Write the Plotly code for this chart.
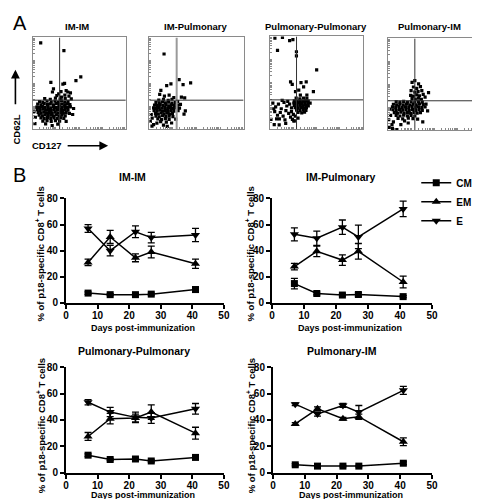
import math
import plotly.graph_objects as go

W, H = 480, 499
FONT = "Liberation Sans"

# ---------------- data: panel B ----------------
days = [7, 14, 22, 27, 41]
panel_titles = ["IM-IM", "IM-Pulmonary", "Pulmonary-Pulmonary", "Pulmonary-IM"]
series_names = ["CM", "EM", "E"]

cm_imim = [7.5, 6.3, 6.3, 6.7, 10.2]
cm_imim_err = [1.0, 0.8, 0.8, 0.8, 2.0]
em_imim = [31, 50.5, 34.5, 39, 30]
em_imim_err = [2.5, 5, 3, 4.5, 3.5]
e_imim = [57, 40, 54.5, 50, 52]
e_imim_err = [3, 4, 4.5, 4, 5]

cm_impul = [14.8, 7.2, 6.0, 6.4, 4.8]
cm_impul_err = [4, 1, 0.8, 1.5, 0.8]
em_impul = [27.8, 39.5, 32.8, 39.5, 16]
em_impul_err = [2.5, 4, 4, 6, 4.5]
e_impul = [52.5, 49.5, 58, 50.5, 72]
e_impul_err = [5, 5.5, 5.5, 9, 6]

cm_pulpul = [13.3, 10, 10.4, 8.9, 11.6]
cm_pulpul_err = [1, 0.8, 0.8, 0.8, 1]
em_pulpul = [27.5, 41, 41.5, 46, 30]
em_pulpul_err = [3, 4, 3, 5.5, 4.5]
e_pulpul = [53.5, 46, 42, 41.5, 48.5]
e_pulpul_err = [2, 3.5, 4, 4, 4]

cm_pulim = [6, 5, 5, 5, 7.2]
cm_pulim_err = [0.8, 0.6, 0.6, 0.6, 1]
em_pulim = [37, 48.5, 41, 42.5, 23.5]
em_pulim_err = [1, 1.5, 1, 2, 3]
e_pulim = [52, 44.5, 51, 46, 62.5]
e_pulim_err = [1, 1.5, 1.5, 5, 3]

# ---------------- data: panel A (flow dot plots, % of axis) ----------------
flow_imim = [
    (8.7, 94), (33.6, 85.5), (51.7, 57), (46.5, 53), (19.6, 51), (32.5, 49), (34.3, 50), (22.4, 44),
    (21.3, 40.5), (37.8, 40.5), (40.6, 39.5), (36, 42), (34.6, 37), (31, 35), (26, 36.5), (28, 38.5),
    (41.5, 33), (39, 36), (30.5, 41),
    (13, 33.2), (19, 32.6), (24.5, 33.8), (29.5, 32.9), (35, 33.4),
    (7.5, 30.1), (11, 29.3), (15.5, 30.6), (20, 29.8), (24, 30.4), (27.5, 29.6), (31, 30.8), (34.5, 29.5), (38, 30.2),
    (5.5, 27.2), (9, 26.5), (12.5, 27.8), (16, 26.9), (19, 27.5), (22.5, 26.6), (25.5, 27.9), (28.5, 26.8),
    (31.5, 27.3), (34.5, 26.4), (37.5, 27.6), (40, 26.8),
    (4.5, 24.1), (7.5, 23.5), (10.5, 24.6), (13.5, 23.8), (16.5, 24.4), (19.5, 23.3), (22.5, 24.7), (25.5, 23.6),
    (28.5, 24.2), (31.5, 23.4), (34.5, 24.5), (37.5, 23.7), (40.5, 24.3),
    (5, 21.3), (8, 20.5), (11, 21.7), (14, 20.6), (17, 21.4), (20, 20.3), (23, 21.5), (26, 20.8), (29, 21.2),
    (32, 20.4), (35, 21.6), (38, 20.7),
    (6, 18.2), (9, 17.4), (12, 18.6), (15, 17.7), (18, 18.4), (21, 17.3), (24, 18.5), (27, 17.6), (30, 18.3),
    (33, 17.5), (36, 18.1), (39.5, 17.2),
    (7, 15.3), (10.5, 14.5), (13.5, 15.6), (16.5, 14.8), (19.5, 15.4), (22.5, 14.3), (25.5, 15.5), (28.5, 14.6),
    (31.5, 15.2), (35, 14.4),
    (9, 12.2), (12.5, 11.4), (16, 12.5), (19.5, 11.7), (23, 12.3), (26.5, 11.5), (30, 12.4), (33.5, 11.8),
    (11, 8.8), (15.5, 9.4), (20, 8.5), (24.5, 9.3), (29, 8.6),
    (2.5, 6), (21, 4), (36, 8.5), (43, 16), (44, 22.5), (3, 13), (1.5, 19), (27, 5.5), (14, 5.8),
]
flow_impul = [
    (15.6, 81.9), (31.6, 53.9), (43.8, 50.4), (35.8, 48.6), (22.9, 49.3), (18.4, 47.5), (12.2, 42.2), (34, 35),
    (37.5, 34), (38.2, 19.9), (36.8, 16.3), (1, 8.5), (2.8, 3.2), (23.6, 6.7), (30, 30), (33, 27), (32, 23),
    (11, 38), (16, 36), (21, 37), (26, 34.5),
    (10, 31.8), (15, 32.5), (20, 31.5), (24, 32.6),
    (7, 29.2), (10.5, 28.6), (14, 29.6), (17, 28.8), (20.5, 29.4), (24, 28.5), (27.5, 29.2),
    (5.5, 26.3), (8.5, 25.6), (11.5, 26.7), (14.5, 25.8), (17.5, 26.5), (20.5, 25.5), (23.5, 26.6), (26.5, 25.9), (30, 26.2),
    (4.5, 23.2), (7.5, 22.6), (10.5, 23.6), (13.5, 22.8), (16.5, 23.4), (19.5, 22.4), (22.5, 23.5), (25.5, 22.7), (29, 23.3),
    (5, 20.2), (8, 19.5), (11, 20.6), (14, 19.7), (17, 20.4), (20, 19.3), (23, 20.5), (26, 19.6), (30.5, 20.2),
    (6.5, 17.3), (9.5, 16.5), (12.5, 17.6), (15.5, 16.7), (18.5, 17.4), (21.5, 16.4), (24.5, 17.2),
    (7, 14.2), (10.5, 13.5), (14, 14.6), (17.5, 13.7), (21, 14.3), (25, 13.6),
    (9, 11.2), (13, 10.5), (17, 11.4), (21, 10.6),
    (12, 8.2), (18, 7.6), (8, 6.5),
    (3, 12), (2, 16), (4.5, 5), (15, 4.5), (19, 3), (28, 11),
]
flow_pulpul = [
    (5.2, 98.2), (13.3, 99), (21, 95.4), (24.5, 96.5), (8, 85), (28.3, 83.5), (28.3, 79), (50, 64),
    (22, 51), (23.8, 48.4), (33.2, 50.2), (38.8, 51), (36, 45.6), (46.5, 40.4), (30.8, 42), (39.5, 36.8),
    (32.5, 36.8), (27.3, 40.4), (1, 10.5), (4.5, 5), (9.8, 4.6), (16.8, 6.3), (25.5, 8.8),
    (28, 33.5), (32, 32.8), (36, 33.6), (39.5, 32.9),
    (26, 30.6), (29, 30.1), (32, 31), (35, 30.2), (38, 30.8), (41, 30.3),
    (25.5, 28.2), (28.5, 27.6), (31.5, 28.5), (34.5, 27.8), (37.5, 28.4), (40.5, 27.5), (43, 28.1),
    (26, 25.6), (29, 25.1), (32, 25.9), (35, 25.2), (38, 25.8), (41, 25),
    (27, 23.2), (30, 22.6), (33, 23.4), (36, 22.7), (39, 23.3),
    (28.5, 20.6), (32, 20.1), (35.5, 20.8), (38.5, 20.2),
    (30, 18), (34, 17.5), (37, 18.3),
    (3, 28), (6, 24), (9, 27), (12, 22), (15, 29), (18, 25), (21, 27), (23, 23), (5, 19), (8, 15), (11, 18),
    (14, 14), (17, 20), (20, 17), (23, 19), (10, 11), (16, 10), (22, 13), (25, 16), (19, 30), (13, 31),
    (4, 22), (7, 11), (27, 14), (30, 12), (24, 10.5), (26, 9),
]
flow_pulim = [
    (26, 52), (29, 54), (33, 50.5), (27.5, 47), (31, 45.5), (35, 47.5), (25, 43), (29, 41.5), (32.5, 42),
    (36.5, 43), (24.5, 38), (27.5, 37), (31, 38.5), (34, 37.5), (38, 39), (26, 34.5), (29.5, 33.8),
    (33, 34.8), (36, 33.5), (40, 36), (43.7, 40.8),
    (9, 31), (13, 30.5), (17, 31.3), (21, 30.6), (25, 31.2), (29, 30.4), (33, 31), (37, 30.5),
    (6, 28.2), (9.5, 27.6), (13, 28.5), (16.5, 27.7), (20, 28.4), (23.5, 27.5), (27, 28.3), (30.5, 27.6),
    (34, 28.5), (38, 27.8), (41, 28.3),
    (5, 25.3), (8.5, 24.6), (12, 25.7), (15.5, 24.8), (19, 25.4), (22.5, 24.5), (26, 25.6), (29.5, 24.8),
    (33, 25.5), (36.5, 24.6), (40, 25.2),
    (5.5, 22.2), (9, 21.5), (12.5, 22.6), (16, 21.7), (19.5, 22.4), (23, 21.4), (26.5, 22.5), (30, 21.6),
    (33.5, 22.3), (37, 21.5),
    (7, 19.2), (10.5, 18.5), (14, 19.5), (17.5, 18.6), (21, 19.4), (24.5, 18.4), (28, 19.3), (31.5, 18.5), (35, 19.2),
    (9, 16), (13, 15.4), (17, 16.3), (21, 15.5), (25, 16.2), (29, 15.4),
    (11, 12.8), (16, 12.2), (22, 13), (27, 12.5),
    (1, 11.3), (4.5, 6), (9.7, 0.7), (21.9, 7.8), (37.5, 8.9), (42.7, 21), (3, 16), (2, 23), (6, 9),
    (14, 6), (18, 10), (32, 12), (1.5, 3), (5, 2),
]
flow_gates = [(29, 31.6), (29, 31.6), (28.4, 31.6), (29, 32)]

# ---------------- layout geometry (pixels) ----------------
def px(x):
    return x / W

def py(y):
    return 1 - y / H

flow_boxes = [(22, 117, 24, 118), (141, 237, 24, 118), (264, 359, 23, 118), (384, 479, 25, 119)]
flow_title_x = [67, 189, 311, 427]
line_boxes = [(56, 217, 189, 296), (266, 429, 189, 296), (56, 217, 362, 470), (267, 429, 362, 470)]
line_title_pos = [(124, 167), (336, 167), (125, 345), (337, 345)]

fig = go.Figure()
layout_axes = {}
shapes = []
annotations = []

# minor log-like tick positions for flow plots
flow_ticks = []
for d in range(4):
    for k in range(1, 10):
        flow_ticks.append(25 * (d + math.log10(k)))
flow_ticks.append(100)

flow_sets = [flow_imim, flow_impul, flow_pulpul, flow_pulim]
for i, (pts, box) in enumerate(zip(flow_sets, flow_boxes)):
    n = i + 1
    fig.add_trace(go.Scatter(
        x=[p[0] for p in pts], y=[p[1] for p in pts], mode="markers",
        marker=dict(symbol="square", size=3.2, color="black", line=dict(width=0)),
        xaxis=f"x{n}", yaxis=f"y{n}", showlegend=False, hoverinfo="skip"))
    x0, x1, y0, y1 = box
    common = dict(range=[0, 100], showgrid=False, zeroline=False, showline=True, mirror=True,
                  linecolor="#8a8a8a", linewidth=1, ticks="inside", ticklen=2, tickwidth=1,
                  tickcolor="#8a8a8a", tickvals=flow_ticks, showticklabels=False, fixedrange=True)
    layout_axes[f"xaxis{n}"] = dict(domain=[px(x0), px(x1)], anchor=f"y{n}", **common)
    layout_axes[f"yaxis{n}"] = dict(domain=[py(y1), py(y0)], anchor=f"x{n}", **common)
    gx, gy = flow_gates[i]
    vcol, vw = ("#9a9a9a", 2) if i == 1 else ("#333333", 1)
    shapes.append(dict(type="line", xref=f"x{n}", yref=f"y{n}", x0=gx, x1=gx, y0=0, y1=100,
                       line=dict(color=vcol, width=vw)))
    shapes.append(dict(type="line", xref=f"x{n}", yref=f"y{n}", x0=0, x1=100, y0=gy, y1=gy,
                       line=dict(color="#333333", width=1)))
    annotations.append(dict(text=panel_titles[i], x=px(flow_title_x[i]), y=py(13), xref="paper", yref="paper",
                            showarrow=False, xanchor="center", yanchor="middle",
                            font=dict(family=FONT, size=9.5, color="black", weight="bold")))

# ---------------- panel B ----------------
series_data = [
    [(cm_imim, cm_imim_err), (em_imim, em_imim_err), (e_imim, e_imim_err)],
    [(cm_impul, cm_impul_err), (em_impul, em_impul_err), (e_impul, e_impul_err)],
    [(cm_pulpul, cm_pulpul_err), (em_pulpul, em_pulpul_err), (e_pulpul, e_pulpul_err)],
    [(cm_pulim, cm_pulim_err), (em_pulim, em_pulim_err), (e_pulim, e_pulim_err)],
]
symbols = ["square", "triangle-up", "triangle-down"]
sizes = [7, 8, 8]

for i, box in enumerate(line_boxes):
    n = i + 5
    for s, (vals, errs) in enumerate(series_data[i]):
        fig.add_trace(go.Scatter(
            x=days, y=vals, mode="lines+markers", name=series_names[s],
            error_y=dict(type="data", array=errs, visible=True, color="black", thickness=1.3, width=3.5),
            marker=dict(symbol=symbols[s], size=sizes[s], color="black"),
            line=dict(color="black", width=1.5),
            xaxis=f"x{n}", yaxis=f"y{n}", showlegend=(i == 1), cliponaxis=False))
    x0, x1, y0, y1 = box
    tickfont = dict(family=FONT, size=10, color="black", weight="bold")
    layout_axes[f"xaxis{n}"] = dict(domain=[px(x0), px(x1)], anchor=f"y{n}", range=[0, 50], dtick=10,
                                    showgrid=False, zeroline=False, showline=True, linecolor="black",
                                    linewidth=2, ticks="outside", ticklen=4, tickwidth=1.8,
                                    tickcolor="black", tickfont=tickfont, fixedrange=True,
                                    ticklabelstandoff=-2)
    layout_axes[f"yaxis{n}"] = dict(domain=[py(y1), py(y0)], anchor=f"x{n}", range=[0, 80], dtick=20,
                                    showgrid=False, zeroline=False, showline=True, linecolor="black",
                                    linewidth=2, ticks="outside", ticklen=4, tickwidth=1.8,
                                    tickcolor="black", tickfont=tickfont, fixedrange=True)
    tx, ty = line_title_pos[i]
    annotations.append(dict(text=panel_titles[i], x=px(tx), y=py(ty), xref="paper", yref="paper",
                            showarrow=False, xanchor="center", yanchor="middle",
                            font=dict(family=FONT, size=10.5, color="black", weight="bold")))
    # x axis title
    xt_y = 322 if i < 2 else 493
    annotations.append(dict(text="Days post-immunization", x=px((x0 + x1) / 2 - 2), y=py(xt_y),
                            xref="paper", yref="paper", showarrow=False, xanchor="center",
                            yanchor="middle",
                            font=dict(family=FONT, size=9, color="black", weight="bold")))
    # y axis title
    yt_x = 30 if i % 2 == 0 else 244
    yt_y = 246 if i < 2 else 422
    annotations.append(dict(text="% of p18-specific CD8<sup>+</sup> T cells", x=px(yt_x), y=py(yt_y),
                            xref="paper", yref="paper", showarrow=False, textangle=-90,
                            xanchor="center", yanchor="middle",
                            font=dict(family=FONT, size=9.5, color="black", weight="bold")))

# significance marker
annotations.append(dict(text="**", x=41, y=85.5, xref="x6", yref="y6", showarrow=False,
                        xanchor="center", yanchor="middle",
                        font=dict(family=FONT, size=10, color="#555555", weight="bold")))

# panel letters
annotations.append(dict(text="A", x=px(0), y=py(9), xref="paper", yref="paper", showarrow=False,
                        xanchor="left", yanchor="middle", font=dict(family=FONT, size=20, color="black")))
annotations.append(dict(text="B", x=px(0), y=py(165), xref="paper", yref="paper", showarrow=False,
                        xanchor="left", yanchor="middle", font=dict(family=FONT, size=20, color="black")))

# flow axis labels and arrows
annotations.append(dict(text="CD62L", x=px(5.5), y=py(118), xref="paper", yref="paper", showarrow=False,
                        textangle=-90, xanchor="center", yanchor="middle",
                        font=dict(family=FONT, size=9.5, color="black", weight="bold")))
annotations.append(dict(text="", x=px(4.5), y=py(57), xref="paper", yref="paper", showarrow=True,
                        ax=0, ay=36, arrowhead=2, arrowsize=1.1, arrowwidth=1.6, arrowcolor="black"))
annotations.append(dict(text="CD127", x=px(37), y=py(135), xref="paper", yref="paper", showarrow=False,
                        xanchor="center", yanchor="middle",
                        font=dict(family=FONT, size=9.5, color="black", weight="bold")))
annotations.append(dict(text="", x=px(99), y=py(135), xref="paper", yref="paper", showarrow=True,
                        ax=-42, ay=0, arrowhead=2, arrowsize=1.1, arrowwidth=1.6, arrowcolor="black"))

fig.update_layout(
    width=W, height=H, margin=dict(l=0, r=0, t=0, b=0),
    paper_bgcolor="white", plot_bgcolor="white",
    font=dict(family=FONT, color="black"),
    shapes=shapes, annotations=annotations,
    legend=dict(x=px(413), y=py(158), xanchor="left", yanchor="top", bgcolor="rgba(0,0,0,0)",
                font=dict(family=FONT, size=10, color="black", weight="bold"),
                itemwidth=30, tracegroupgap=0),
    **layout_axes,
)

fig.write_html("out.html")
